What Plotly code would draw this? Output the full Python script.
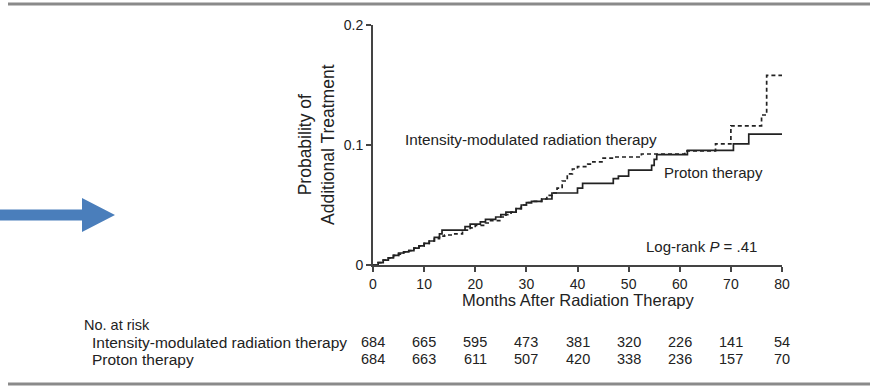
import plotly.graph_objects as go

# ---- data ----
imrt_months = [0, 1, 2, 3, 4, 5, 6, 7, 8, 9, 10, 11, 12, 13, 14, 16, 17.5, 19, 20, 22, 23, 25, 26, 27,
               28, 29, 30, 31, 33, 34, 35, 36, 37, 38, 39, 40, 42, 43, 45, 47, 52.5, 61, 67, 70, 76, 77, 80]
imrt_prob = [0, 0.002, 0.004, 0.006, 0.008, 0.009, 0.011, 0.012, 0.014, 0.016, 0.018, 0.020, 0.022,
             0.024, 0.025, 0.026, 0.029, 0.031, 0.033, 0.035, 0.037, 0.040, 0.042, 0.044, 0.047, 0.050,
             0.052, 0.053, 0.055, 0.058, 0.060, 0.064, 0.070, 0.076, 0.080, 0.082, 0.084, 0.086, 0.089,
             0.090, 0.0925, 0.095, 0.101, 0.116, 0.125, 0.158, 0.158]

proton_months = [0, 1, 2, 3, 4, 5, 6, 7, 8, 9, 10, 11, 12, 13, 13.5, 18, 19, 21, 22, 24, 25, 26, 28,
                 29, 30, 31, 33, 35, 40, 41, 47, 48, 50, 54.5, 55, 55.5, 61.5, 70.5, 73.5, 80]
proton_prob = [0, 0.002, 0.004, 0.006, 0.008, 0.010, 0.011, 0.012, 0.014, 0.016, 0.018, 0.020, 0.023,
               0.026, 0.029, 0.032, 0.034, 0.036, 0.038, 0.040, 0.042, 0.044, 0.047, 0.050, 0.052,
               0.053, 0.055, 0.060, 0.064, 0.068, 0.072, 0.074, 0.079, 0.083, 0.088, 0.092, 0.0955,
               0.101, 0.109, 0.109]

x_ticks = [0, 10, 20, 30, 40, 50, 60, 70, 80]
y_ticks = [0, 0.1, 0.2]
y_tick_labels = ["0", "0.1", "0.2"]
risk_imrt = [684, 665, 595, 473, 381, 320, 226, 141, 54]
risk_proton = [684, 663, 611, 507, 420, 338, 236, 157, 70]
group_labels = ["Intensity-modulated radiation therapy", "Proton therapy"]

# ---- layout helpers (pixel -> paper) ----
W, H = 875, 389
L, R, T, B = 373, 782, 25, 265
def px(x):
    return (x - L) / (R - L)
def py(y):
    return (B - y) / (B - T)

FONT = "Liberation Sans, Arial, sans-serif"
TXT = "#222222"
AX = "#444444"

fig = go.Figure()
fig.add_trace(go.Scatter(x=imrt_months, y=imrt_prob, mode="lines", line_shape="hv",
                         line=dict(color="#222222", width=1.7, dash="4px,3px"),
                         name=group_labels[0], hoverinfo="skip"))
fig.add_trace(go.Scatter(x=proton_months, y=proton_prob, mode="lines", line_shape="hv",
                         line=dict(color="#222222", width=1.7),
                         name=group_labels[1], hoverinfo="skip"))

fig.update_layout(
    width=W, height=H, showlegend=False,
    margin=dict(l=L, r=W - R, t=T, b=H - B, pad=0),
    plot_bgcolor="white", paper_bgcolor="white",
    font=dict(family=FONT, size=14, color=TXT),
    xaxis=dict(range=[0, 80], tickvals=x_ticks, ticks="outside", ticklen=5, tickwidth=1.5,
               tickcolor=AX, showline=True, linecolor=AX, linewidth=2, showgrid=False,
               zeroline=False, tickfont=dict(size=14, color=TXT, family=FONT)),
    yaxis=dict(range=[0, 0.2], tickvals=y_ticks, ticktext=y_tick_labels, ticks="outside",
               ticklen=5, tickwidth=1.5, tickcolor=AX, showline=True, linecolor=AX, linewidth=2,
               showgrid=False, zeroline=False, tickfont=dict(size=14, color=TXT, family=FONT)),
)

def note(text, x, y, xanchor="center", size=15, xref="paper", angle=0):
    return dict(text=text, xref=xref, yref="paper", x=x, y=py(y), xanchor=xanchor,
                yanchor="middle", showarrow=False, textangle=angle, font=dict(size=size))

ann = []
ann.append(note("Months After Radiation Therapy", px(578), 300, size=16.5))
ann.append(note("Probability of<br>Additional Treatment", px(316), 145, angle=-90, size=17.5))
ann.append(note(group_labels[0], px(403), 139, xanchor="left", size=15.3))
ann.append(note(group_labels[1], px(662), 172, xanchor="left"))
ann.append(note("Log-rank <i>P</i> = .41", px(759), 246, xanchor="right"))
ann.append(note("No. at risk", px(82), 325, xanchor="left", size=14.5))
for lab, yy in zip(group_labels, [342, 359]):
    ann.append(note(lab, px(90), yy, xanchor="left", size=15.5))
for row, yy in zip([risk_imrt, risk_proton], [342, 359]):
    for xv, n in zip(x_ticks, row):
        ann.append(note(str(n), xv, yy, xref="x", size=14.5))
fig.update_layout(annotations=ann)

# decorative rules and arrow
shapes = []
for yy in [4, 384]:
    shapes.append(dict(type="line", xref="paper", yref="paper", x0=px(8), x1=px(870),
                       y0=py(yy), y1=py(yy), line=dict(color="#8a8a8a", width=3)))
pts = [(0, 209.5), (82, 209.5), (82, 198), (115, 215), (82, 232), (82, 220.5), (0, 220.5)]
path = "M " + " L ".join(f"{px(a):.5f},{py(b):.5f}" for a, b in pts) + " Z"
shapes.append(dict(type="path", xref="paper", yref="paper", path=path,
                   fillcolor="#4A7EBB", line=dict(width=0)))
fig.update_layout(shapes=shapes)

fig.write_html("out.html", config={"displayModeBar": False},
               post_script="document.body.style.margin='0';document.body.style.overflow='hidden';")
